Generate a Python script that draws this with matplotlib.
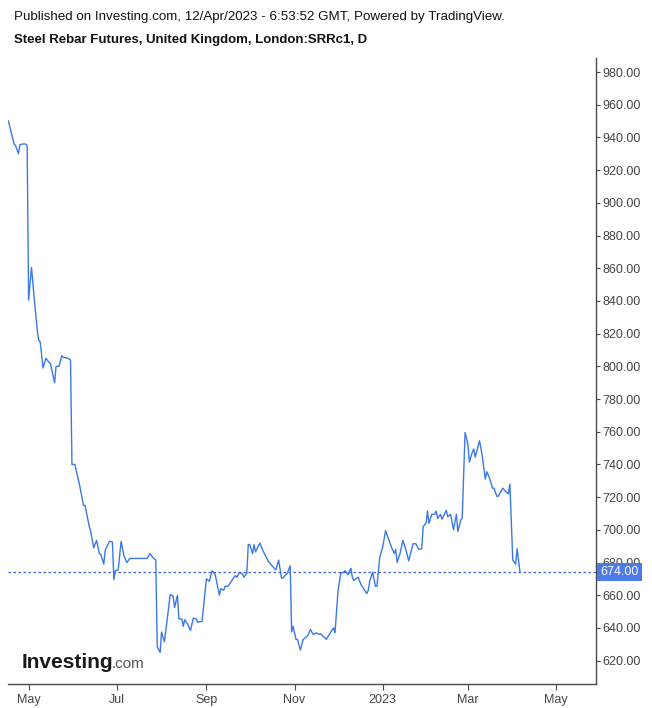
import matplotlib
matplotlib.use("Agg")
import matplotlib.pyplot as plt
import matplotlib.dates as mdates
import matplotlib.transforms as mtransforms
import pandas as pd

# ---------------- data ----------------
dates = [
    "2022-04-17", "2022-04-21", "2022-04-22", "2022-04-24", "2022-04-25", "2022-04-27", "2022-04-29", "2022-04-30", "2022-05-01", "2022-05-03",
    "2022-05-05", "2022-05-07", "2022-05-08", "2022-05-09", "2022-05-11", "2022-05-13", "2022-05-15", "2022-05-16", "2022-05-19", "2022-05-20",
    "2022-05-22", "2022-05-24", "2022-05-25", "2022-05-28", "2022-05-30", "2022-05-31", "2022-06-02", "2022-06-05", "2022-06-08", "2022-06-09",
    "2022-06-12", "2022-06-13", "2022-06-15", "2022-06-17", "2022-06-19", "2022-06-20", "2022-06-22", "2022-06-23", "2022-06-26", "2022-06-28",
    "2022-06-29", "2022-06-30", "2022-07-02", "2022-07-04", "2022-07-06", "2022-07-08", "2022-07-10", "2022-07-22", "2022-07-24", "2022-07-26",
    "2022-07-28", "2022-07-29", "2022-07-31", "2022-08-01", "2022-08-03", "2022-08-07", "2022-08-09", "2022-08-10", "2022-08-12", "2022-08-13",
    "2022-08-15", "2022-08-16", "2022-08-17", "2022-08-19", "2022-08-21", "2022-08-23", "2022-08-25", "2022-08-26", "2022-08-29", "2022-09-01",
    "2022-09-03", "2022-09-05", "2022-09-07", "2022-09-10", "2022-09-11", "2022-09-13", "2022-09-14", "2022-09-16", "2022-09-19", "2022-09-21",
    "2022-09-22", "2022-09-24", "2022-09-26", "2022-09-27", "2022-09-29", "2022-09-30", "2022-10-01", "2022-10-03", "2022-10-04", "2022-10-05",
    "2022-10-08", "2022-10-10", "2022-10-14", "2022-10-16", "2022-10-19", "2022-10-21", "2022-10-23", "2022-10-24", "2022-10-27", "2022-10-29",
    "2022-10-30", "2022-10-31", "2022-11-02", "2022-11-03", "2022-11-05", "2022-11-07", "2022-11-10", "2022-11-12", "2022-11-14", "2022-11-16",
    "2022-11-18", "2022-11-19", "2022-11-23", "2022-11-26", "2022-11-28", "2022-11-29", "2022-12-01", "2022-12-03", "2022-12-05", "2022-12-06",
    "2022-12-08", "2022-12-10", "2022-12-11", "2022-12-12", "2022-12-15", "2022-12-17", "2022-12-18", "2022-12-21", "2022-12-22", "2022-12-23",
    "2022-12-25", "2022-12-27", "2022-12-28", "2022-12-30", "2023-01-01", "2023-01-03", "2023-01-06", "2023-01-07", "2023-01-09", "2023-01-10",
    "2023-01-11", "2023-01-13", "2023-01-15", "2023-01-17", "2023-01-19", "2023-01-22", "2023-01-24", "2023-01-26", "2023-01-28", "2023-01-29",
    "2023-01-31", "2023-02-01", "2023-02-02", "2023-02-04", "2023-02-06", "2023-02-07", "2023-02-08", "2023-02-10", "2023-02-11", "2023-02-13",
    "2023-02-14", "2023-02-15", "2023-02-17", "2023-02-19", "2023-02-21", "2023-02-22", "2023-02-24", "2023-02-25", "2023-02-27", "2023-02-28",
    "2023-03-01", "2023-03-02", "2023-03-04", "2023-03-05", "2023-03-06", "2023-03-09", "2023-03-11", "2023-03-13", "2023-03-14", "2023-03-16",
    "2023-03-18", "2023-03-19", "2023-03-21", "2023-03-22", "2023-03-25", "2023-03-27", "2023-03-29", "2023-03-30", "2023-04-01", "2023-04-03",
    "2023-04-04", "2023-04-06",
]
prices = [
    950, 936, 935, 930, 935.5, 936, 936, 935, 840.5, 860.5,
    840.5, 822, 816, 815, 799, 805, 802.5, 802, 790, 800,
    800, 806.5, 805.5, 805, 804, 740, 740, 728.5, 715, 715,
    702, 699, 689, 693.5, 685.5, 685, 679, 687.5, 693, 692.5,
    669.5, 675, 675.5, 693, 684, 680, 682.5, 682.5, 685.5, 683,
    681.5, 628.5, 625, 637.5, 631.5, 660.5, 659.5, 652.5, 660, 645.5,
    645.5, 641, 645, 642.5, 638.5, 646, 645.5, 643.5, 644, 670,
    668.5, 675, 673, 660, 664, 663, 665.5, 665.5, 669.5, 672,
    671, 674, 673, 671, 673.5, 691, 691, 685.5, 691, 686.5,
    692, 687.5, 680.5, 678.5, 675.5, 681.5, 670.5, 670.5, 673.5, 678,
    637.5, 641, 633, 633, 626.5, 633, 635, 639, 636, 637,
    636, 636.5, 633, 637.5, 640, 637, 662, 673.5, 674, 675,
    672.5, 676.5, 671, 669, 671, 666.5, 665, 661, 663, 668.5,
    674, 665.5, 665.5, 683.5, 689.5, 699.5, 692, 689.5, 685.5, 688,
    680, 685.5, 693.5, 688, 681, 691.5, 691.5, 688, 688.5, 702,
    704, 711.5, 704, 709.5, 709.5, 711.5, 707, 709.5, 706.5, 710,
    712, 708, 709.5, 700, 709.5, 699, 706, 707, 759.5, 756,
    752, 741.5, 747.5, 749.5, 744.5, 754.5, 744.5, 731, 735.5, 731.5,
    725.5, 725.5, 720.5, 720.5, 725.5, 723.5, 722, 728, 681.5, 679,
    688.5, 674,
]
last_price = 674.0
y_ticks = [620, 640, 660, 680, 700, 720, 740, 760, 780, 800, 820, 840, 860, 880, 900, 920, 940, 960, 980]

title_top = "Published on Investing.com, 12/Apr/2023 - 6:53:52 GMT, Powered by TradingView."
title_main = "Steel Rebar Futures, United Kingdom, London:SRRc1, D"

# ---------------- figure ----------------
plt.rcParams['font.family'] = ['Liberation Sans', 'DejaVu Sans']
W, H = 652, 708
fig = plt.figure(figsize=(W / 100, H / 100), dpi=100)
left, right, bottom, top = 8, 596, 684, 58
ax = fig.add_axes([left / W, 1 - bottom / H, (right - left) / W, (bottom - top) / H])

x = pd.to_datetime(dates)
line_color = '#3b78e7'
ax.plot(x, prices, color=line_color, lw=1.0)

ax.set_xlim(pd.Timestamp("2022-04-16 18:00"), pd.Timestamp("2023-05-28 14:00"))
ax.set_ylim(605.7, 988.6)

axis_color = '#4a4a4a'
for s in ['top', 'left']:
    ax.spines[s].set_visible(False)
for s in ['right', 'bottom']:
    ax.spines[s].set_color(axis_color)
    ax.spines[s].set_linewidth(1.0)

ax.yaxis.tick_right()
ax.set_yticks(y_ticks)
ax.set_yticklabels([f"{v:.2f}" for v in y_ticks])
ax.tick_params(axis='y', direction='out', length=3, width=0.8, color=axis_color,
               labelsize=9, labelcolor='#444444', pad=1.5)

ax.xaxis.set_major_locator(mdates.MonthLocator(bymonth=(1, 3, 5, 7, 9, 11)))
def fmt(v, pos=None):
    d = mdates.num2date(v)
    return str(d.year) if d.month == 1 else d.strftime('%b')
ax.xaxis.set_major_formatter(plt.FuncFormatter(fmt))
ax.tick_params(axis='x', direction='out', length=4, width=0.8, color=axis_color,
               labelsize=9, labelcolor='#444444', pad=3)

# last price dotted line + label
ax.axhline(last_price, color='#3366e6', lw=0.9, ls=(0, (2, 2)))
trans = mtransforms.blended_transform_factory(ax.transAxes, ax.transData)
ax.text(1.0 + 4 / (right - left), last_price, f"{last_price:.2f}", transform=trans,
        ha='left', va='center', color='white', fontsize=9, zorder=10, clip_on=False,
        bbox=dict(boxstyle='square,pad=0.25', facecolor='#4a7be8', edgecolor='none'))

# titles
fig.text(14 / W, 1 - 17 / H, title_top, fontsize=9.6, color='#111111', ha='left', va='center')
fig.text(14 / W, 1 - 40 / H, title_main, fontsize=9.5, fontweight='bold', color='#111111',
         ha='left', va='center')

# logo
fig.text(22 / W, 1 - 662 / H, "Investing", fontsize=15, fontweight='bold', color='#1a1a1a',
         ha='left', va='center')
fig.text(112 / W, 1 - 664 / H, ".com", fontsize=11, color='#555555', ha='left', va='center')

fig.savefig("out.png", dpi=100)
